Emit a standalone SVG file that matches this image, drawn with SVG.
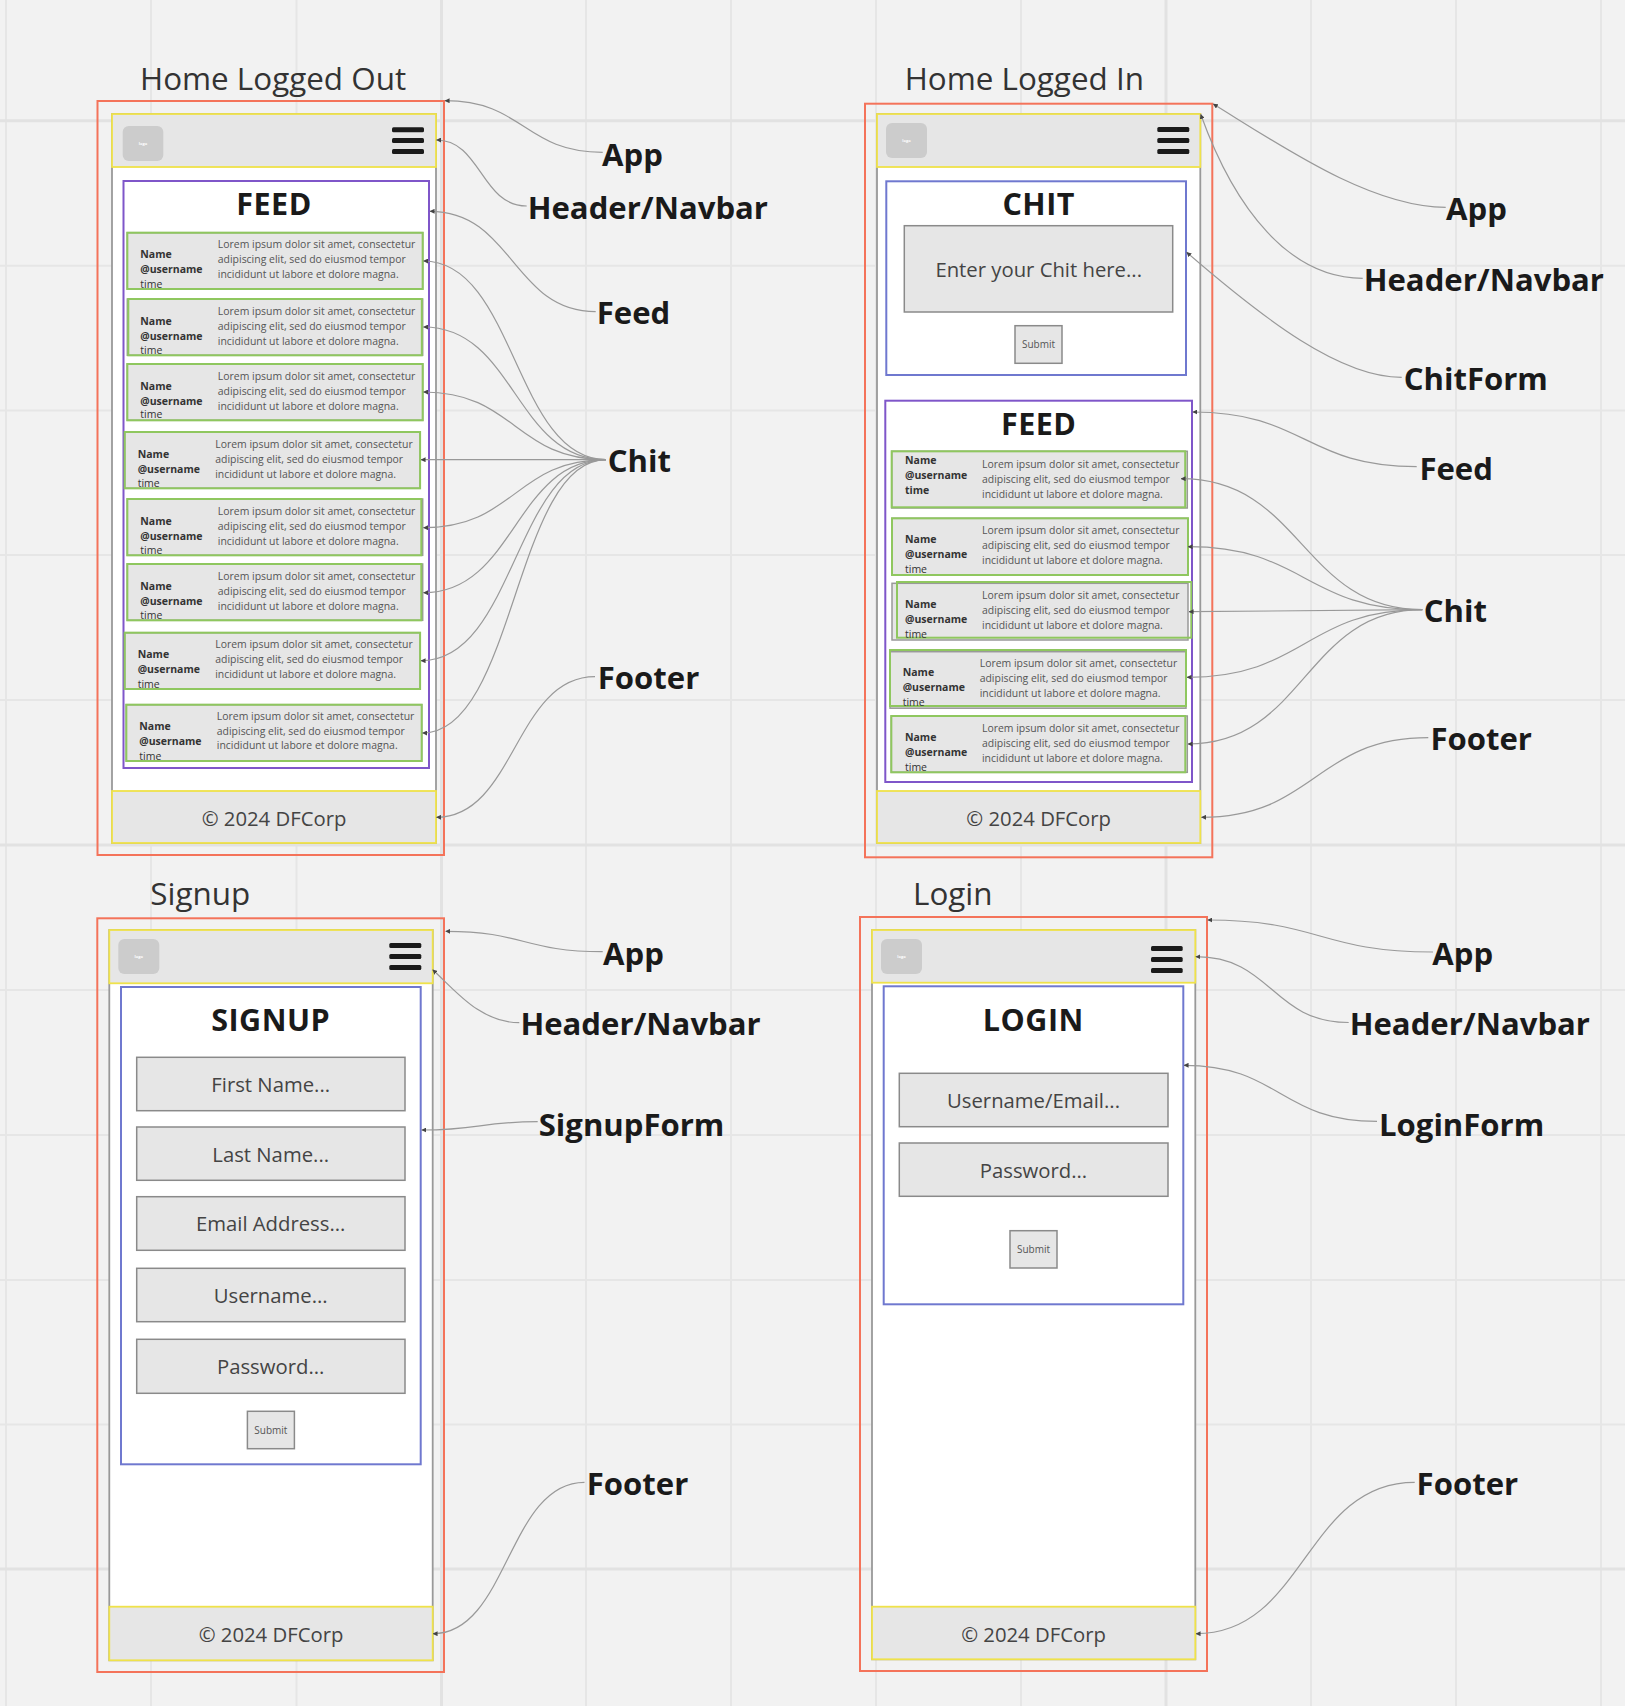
<svg xmlns="http://www.w3.org/2000/svg" width="1625" height="1706" viewBox="0 0 1625 1706">
<style>
text{font-family:"Open Sans","Noto Sans",sans-serif}
.g{stroke:#e6e6e6;stroke-width:2;fill:none}
.gs{stroke:#e2e2e2;stroke-width:3;fill:none}
.app{fill:none;stroke:#f4735a;stroke-width:2}
.frame{fill:#fff;stroke:#999;stroke-width:1.8}
.bar{fill:#e6e6e6;stroke:#efe24a;stroke-width:1.8}
.logo{fill:#ccc}
.logot{font-size:4px;fill:#fff;font-weight:700;text-anchor:middle}
.burger{fill:#1a1a1a}
.feed{fill:#fff;stroke:#7f56c9;stroke-width:2}
.form{fill:#fff;stroke:#6f78cf;stroke-width:2}
.input{fill:#e6e6e6;stroke:#8a8a8a;stroke-width:1.5}
.rowg{fill:#e6e6e6;stroke:#999;stroke-width:1.5}
.rowc{fill:none;stroke:#8fc75f;stroke-width:2}
.title{font-size:31.4px;fill:#333}
.h{font-size:30.5px;font-weight:700;fill:#1a1a1a;text-anchor:middle;letter-spacing:.5px}
.ph{font-size:20.3px;fill:#444;text-anchor:middle}
.sub{font-size:10px;fill:#555;text-anchor:middle}
.n{font-size:10.5px;font-weight:700;fill:#333}
.t{font-size:10.5px;fill:#333}
.l{font-size:10.45px;fill:#555}
.lab{font-size:31.1px;font-weight:700;fill:#1a1a1a}
.c{fill:none;stroke:#999;stroke-width:1.2;marker-end:url(#ah)}
</style>
<defs>
<marker id="ah" viewBox="0 0 6 6" refX="5.5" refY="3" markerUnits="userSpaceOnUse" markerWidth="5" markerHeight="5" orient="auto"><path d="M0 0L6 3L0 6Z" fill="#444"/></marker>
</defs>
<rect width="1625" height="1706" fill="#f2f2f2"/>
<g id="grid">
<path class="g" d="M6 0V1706M151 0V1706M296.5 0V1706M586 0V1706M731 0V1706M876 0V1706M1021 0V1706M1311 0V1706M1456 0V1706M1601 0V1706M0 265.7H1625M0 410.5H1625M0 555H1625M0 700H1625M0 990H1625M0 1135H1625M0 1280H1625M0 1424.5H1625"/>
<path class="gs" d="M441.5 0V1706M1166 0V1706M0 120.7H1625M0 845H1625M0 1569H1625"/>
</g>

<g id="home-logged-out">
<text class="title" x="140" y="90">Home Logged Out</text>
<rect class="app" x="97.5" y="101" width="346.5" height="754"/>
<rect class="frame" x="112" y="114" width="324" height="729"/>
<g id="hlo-header"><rect class="bar" x="112" y="114" width="324" height="53"/><rect class="logo" x="122.7" y="126" width="40.6" height="35" rx="6"/><text class="logot" x="143" y="145">logo</text><rect class="burger" x="392" y="127.3" width="32" height="5" rx="1.5"/><rect class="burger" x="392" y="138" width="32" height="5" rx="1.5"/><rect class="burger" x="392" y="149" width="32" height="5" rx="1.5"/></g>
<g id="hlo-feed"><rect class="feed" x="123.5" y="181" width="305.5" height="587"/><text class="h" x="274" y="214.5">FEED</text></g>
<g id="hlo-chit1" transform="translate(127.3,232.7)"><rect class="rowg" width="295.4" height="56.3"/><rect class="rowc" width="295.4" height="56.3"/><text class="n" x="13" y="25.5">Name</text><text class="n" x="13" y="40.5">@username</text><text class="t" x="13" y="55">time</text><text class="l" x="90.5" y="15.5">Lorem ipsum dolor sit amet, consectetur</text><text class="l" x="90.5" y="30.5">adipiscing elit, sed do eiusmod tempor</text><text class="l" x="90.5" y="45.5">incididunt ut labore et dolore magna.</text></g>
<g id="hlo-chit2" transform="translate(127.3,299)"><rect class="rowg" width="295.4" height="56.3"/><rect class="rowc" x="1" width="293.5" height="56.3"/><text class="n" x="13" y="25.5">Name</text><text class="n" x="13" y="40.5">@username</text><text class="t" x="13" y="55">time</text><text class="l" x="90.5" y="15.5">Lorem ipsum dolor sit amet, consectetur</text><text class="l" x="90.5" y="30.5">adipiscing elit, sed do eiusmod tempor</text><text class="l" x="90.5" y="45.5">incididunt ut labore et dolore magna.</text></g>
<g id="hlo-chit3" transform="translate(127.3,364)"><rect class="rowg" width="295.4" height="56.3"/><rect class="rowc" width="295.4" height="56.3"/><text class="n" x="13" y="25.5">Name</text><text class="n" x="13" y="40.5">@username</text><text class="t" x="13" y="54">time</text><text class="l" x="90.5" y="15.5">Lorem ipsum dolor sit amet, consectetur</text><text class="l" x="90.5" y="30.5">adipiscing elit, sed do eiusmod tempor</text><text class="l" x="90.5" y="45.5">incididunt ut labore et dolore magna.</text></g>
<g id="hlo-chit4" transform="translate(124.7,432)"><rect class="rowg" width="295.4" height="56.3"/><rect class="rowc" width="295.4" height="56.3"/><text class="n" x="13" y="25.5">Name</text><text class="n" x="13" y="40.5">@username</text><text class="t" x="13" y="55">time</text><text class="l" x="90.5" y="15.5">Lorem ipsum dolor sit amet, consectetur</text><text class="l" x="90.5" y="30.5">adipiscing elit, sed do eiusmod tempor</text><text class="l" x="90.5" y="45.5">incididunt ut labore et dolore magna.</text></g>
<g id="hlo-chit5" transform="translate(127.3,499)"><rect class="rowg" width="295.4" height="56.3"/><rect class="rowc" width="294" height="56.3"/><text class="n" x="13" y="25.5">Name</text><text class="n" x="13" y="40.5">@username</text><text class="t" x="13" y="55">time</text><text class="l" x="90.5" y="15.5">Lorem ipsum dolor sit amet, consectetur</text><text class="l" x="90.5" y="30.5">adipiscing elit, sed do eiusmod tempor</text><text class="l" x="90.5" y="45.5">incididunt ut labore et dolore magna.</text></g>
<g id="hlo-chit6" transform="translate(127.3,564)"><rect class="rowg" width="295.4" height="56.3"/><rect class="rowc" width="294" height="56.3"/><text class="n" x="13" y="25.5">Name</text><text class="n" x="13" y="40.5">@username</text><text class="t" x="13" y="55">time</text><text class="l" x="90.5" y="15.5">Lorem ipsum dolor sit amet, consectetur</text><text class="l" x="90.5" y="30.5">adipiscing elit, sed do eiusmod tempor</text><text class="l" x="90.5" y="45.5">incididunt ut labore et dolore magna.</text></g>
<g id="hlo-chit7" transform="translate(124.7,632.7)"><rect class="rowg" width="295.4" height="56.3"/><rect class="rowc" width="295.4" height="56.3"/><text class="n" x="13" y="25.5">Name</text><text class="n" x="13" y="40.5">@username</text><text class="t" x="13" y="55">time</text><text class="l" x="90.5" y="15.5">Lorem ipsum dolor sit amet, consectetur</text><text class="l" x="90.5" y="30.5">adipiscing elit, sed do eiusmod tempor</text><text class="l" x="90.5" y="45.5">incididunt ut labore et dolore magna.</text></g>
<g id="hlo-chit8" transform="translate(126.3,704.7)"><rect class="rowg" width="295.4" height="56.3"/><rect class="rowc" width="295.4" height="56.3"/><text class="n" x="13" y="25.5">Name</text><text class="n" x="13" y="40.5">@username</text><text class="t" x="13" y="55">time</text><text class="l" x="90.5" y="15.5">Lorem ipsum dolor sit amet, consectetur</text><text class="l" x="90.5" y="30">adipiscing elit, sed do eiusmod tempor</text><text class="l" x="90.5" y="44.5">incididunt ut labore et dolore magna.</text></g>
<g id="hlo-footer"><rect class="bar" x="112" y="791" width="324" height="52"/><text class="ph" x="274" y="826">© 2024 DFCorp</text></g>
</g>

<g id="home-logged-in">
<text class="title" x="904.7" y="90">Home Logged In</text>
<rect class="app" x="865" y="103.7" width="347.3" height="753.6"/>
<rect class="frame" x="877" y="114" width="323.3" height="729"/>
<g id="hli-header"><rect class="bar" x="877" y="114" width="323.3" height="53"/><rect class="logo" x="886" y="123" width="41" height="35" rx="6"/><text class="logot" x="906.5" y="142">logo</text><rect class="burger" x="1157.3" y="127" width="32" height="5" rx="1.5"/><rect class="burger" x="1157.3" y="138" width="32" height="5" rx="1.5"/><rect class="burger" x="1157.3" y="149" width="32" height="5" rx="1.5"/></g>
<g id="hli-chitform"><rect class="form" x="886.3" y="181.3" width="299.7" height="193.7"/><text class="h" x="1038.7" y="214.8">CHIT</text><rect class="input" x="904.3" y="225.7" width="268.4" height="86.3"/><text class="ph" x="1038.7" y="276.7">Enter your Chit here...</text><rect class="input" x="1015" y="325.7" width="47" height="37.6"/><text class="sub" x="1038.5" y="347.7">Submit</text></g>
<g id="hli-feed"><rect class="feed" x="885.3" y="400.7" width="306.7" height="381.3"/><text class="h" x="1038.7" y="434.8">FEED</text></g>
<g id="hli-chit1" transform="translate(891.7,451.3)"><rect class="rowg" width="295.6" height="56.7"/><rect class="rowc" width="293.5" height="56"/><text class="n" x="13.3" y="12.7">Name</text><text class="n" x="13.3" y="27.7">@username</text><text class="n" x="13.3" y="42.7">time</text><text class="l" x="90.3" y="17">Lorem ipsum dolor sit amet, consectetur</text><text class="l" x="90.3" y="32">adipiscing elit, sed do eiusmod tempor</text><text class="l" x="90.3" y="47">incididunt ut labore et dolore magna.</text></g>
<g id="hli-chit2" transform="translate(892,518.3)"><rect class="rowg" width="296" height="56.7"/><rect class="rowc" width="296" height="56.7"/><text class="n" x="13" y="25">Name</text><text class="n" x="13" y="40">@username</text><text class="t" x="13" y="55">time</text><text class="l" x="90" y="16">Lorem ipsum dolor sit amet, consectetur</text><text class="l" x="90" y="31">adipiscing elit, sed do eiusmod tempor</text><text class="l" x="90" y="46">incididunt ut labore et dolore magna.</text></g>
<g id="hli-chit3" transform="translate(892,583.3)"><rect class="rowg" width="296" height="56.7"/><rect class="rowc" x="5" y="-1.3" width="294.3" height="55.7" stroke-width="1.5"/><text class="n" x="13" y="25">Name</text><text class="n" x="13" y="40">@username</text><text class="t" x="13" y="55">time</text><text class="l" x="90" y="16">Lorem ipsum dolor sit amet, consectetur</text><text class="l" x="90" y="31">adipiscing elit, sed do eiusmod tempor</text><text class="l" x="90" y="46">incididunt ut labore et dolore magna.</text></g>
<g id="hli-chit4" transform="translate(890,651.7)"><rect class="rowg" width="296" height="56.5"/><rect class="rowc" y="-1.7" width="296" height="56"/><text class="n" x="12.7" y="24.6">Name</text><text class="n" x="12.7" y="39.6">@username</text><text class="t" x="12.7" y="54.6">time</text><text class="l" x="89.7" y="15.6">Lorem ipsum dolor sit amet, consectetur</text><text class="l" x="89.7" y="30.6">adipiscing elit, sed do eiusmod tempor</text><text class="l" x="89.7" y="45.6">incididunt ut labore et dolore magna.</text></g>
<g id="hli-chit5" transform="translate(891.3,716)"><rect class="rowg" width="296" height="56.3"/><rect class="rowc" width="294" height="56.3"/><text class="n" x="13.7" y="25.3">Name</text><text class="n" x="13.7" y="40.3">@username</text><text class="t" x="13.7" y="55">time</text><text class="l" x="90.7" y="16.3">Lorem ipsum dolor sit amet, consectetur</text><text class="l" x="90.7" y="31">adipiscing elit, sed do eiusmod tempor</text><text class="l" x="90.7" y="45.5">incididunt ut labore et dolore magna.</text></g>
<g id="hli-footer"><rect class="bar" x="877" y="791" width="323.3" height="52"/><text class="ph" x="1038.7" y="826">© 2024 DFCorp</text></g>
</g>

<g id="signup">
<text class="title" x="150.3" y="905">Signup</text>
<rect class="app" x="97.3" y="918.3" width="346.7" height="753.7"/>
<rect class="frame" x="109.3" y="930" width="323.4" height="730.3"/>
<g id="su-header"><rect class="bar" x="109.3" y="930" width="323.4" height="53.3"/><rect class="logo" x="118.3" y="939" width="41" height="35" rx="6"/><text class="logot" x="138.8" y="958">logo</text><rect class="burger" x="389.3" y="943" width="32" height="5" rx="1.5"/><rect class="burger" x="389.3" y="954" width="32" height="5" rx="1.5"/><rect class="burger" x="389.3" y="965" width="32" height="5" rx="1.5"/></g>
<g id="su-form"><rect class="form" x="121" y="987" width="299.7" height="477.3"/><text class="h" x="270.7" y="1030.7">SIGNUP</text>
<rect class="input" x="136.7" y="1057.3" width="268.3" height="53.4"/><text class="ph" x="270.7" y="1091.7">First Name...</text>
<rect class="input" x="136.7" y="1127" width="268.3" height="53.3"/><text class="ph" x="270.7" y="1161.7">Last Name...</text>
<rect class="input" x="136.7" y="1196.7" width="268.3" height="53.6"/><text class="ph" x="270.7" y="1231">Email Address...</text>
<rect class="input" x="136.7" y="1268.3" width="268.3" height="53.4"/><text class="ph" x="270.7" y="1302.7">Username...</text>
<rect class="input" x="136.7" y="1339.3" width="268.3" height="54"/><text class="ph" x="270.7" y="1374">Password...</text>
<rect class="input" x="247.4" y="1411.3" width="47" height="37.4"/><text class="sub" x="270.9" y="1434">Submit</text></g>
<g id="su-footer"><rect class="bar" x="109.3" y="1606.7" width="323.4" height="53.6"/><text class="ph" x="271" y="1641.7">© 2024 DFCorp</text></g>
</g>

<g id="login">
<text class="title" x="913" y="905">Login</text>
<rect class="app" x="860" y="917" width="347" height="754"/>
<rect class="frame" x="872" y="930" width="323.3" height="729.3"/>
<g id="li-header"><rect class="bar" x="872" y="930" width="323.3" height="52.7"/><rect class="logo" x="881" y="939" width="41" height="35" rx="6"/><text class="logot" x="901.5" y="958">logo</text><rect class="burger" x="1151" y="946" width="31.7" height="5" rx="1.5"/><rect class="burger" x="1151" y="957" width="31.7" height="5" rx="1.5"/><rect class="burger" x="1151" y="968" width="31.7" height="5" rx="1.5"/></g>
<g id="li-form"><rect class="form" x="883.7" y="986.3" width="299.6" height="318"/><text class="h" x="1033.3" y="1030.7">LOGIN</text>
<rect class="input" x="899.3" y="1073.3" width="268.7" height="53.4"/><text class="ph" x="1033.5" y="1108.3">Username/Email...</text>
<rect class="input" x="899.3" y="1143" width="268.7" height="53.3"/><text class="ph" x="1033.5" y="1178.3">Password...</text>
<rect class="input" x="1010" y="1230.7" width="47" height="37.3"/><text class="sub" x="1033.5" y="1252.7">Submit</text></g>
<g id="li-footer"><rect class="bar" x="872" y="1606.7" width="323.3" height="52.6"/><text class="ph" x="1033.5" y="1641.7">© 2024 DFCorp</text></g>
</g>

<g id="labels" transform="translate(-1.3,0.8)">
<text class="lab" x="603.3" y="165">App</text><text class="lab" x="529" y="218.3">Header/Navbar</text><text class="lab" x="598" y="323">Feed</text><text class="lab" x="609" y="471">Chit</text><text class="lab" x="599" y="688">Footer</text>
<text class="lab" x="1447.3" y="219.3">App</text><text class="lab" x="1365" y="290">Header/Navbar</text><text class="lab" x="1405" y="389">ChitForm</text><text class="lab" x="1420.7" y="479">Feed</text><text class="lab" x="1425" y="621">Chit</text><text class="lab" x="1431.7" y="749">Footer</text>
<text class="lab" x="604.3" y="964">App</text><text class="lab" x="521.7" y="1034.3">Header/Navbar</text><text class="lab" x="540" y="1135">SignupForm</text><text class="lab" x="588" y="1494.3">Footer</text>
<text class="lab" x="1433.6" y="964">App</text><text class="lab" x="1351" y="1034.3">Header/Navbar</text><text class="lab" x="1380.3" y="1135">LoginForm</text><text class="lab" x="1417.9" y="1494.3">Footer</text>
</g>

<g id="connectors">
<path class="c" d="M602.7 152.3C524 152.3 524 100.7 445 100.7"/>
<path class="c" d="M526.7 206C481 206 481 140 436.5 140"/>
<path class="c" d="M595.7 311.7C513 311.7 513 211.3 430 211.3"/>
<path class="c" d="M606 459.7C515 459.7 515 261 423.5 261"/>
<path class="c" d="M606 459.7C515 459.7 515 327 423.5 327"/>
<path class="c" d="M606 459.7C515 459.7 515 392 423.5 392"/>
<path class="c" d="M606 459.7H421"/>
<path class="c" d="M606 459.7C515 459.7 515 527.7 423.5 527.7"/>
<path class="c" d="M606 459.7C515 459.7 515 592.7 423.5 592.7"/>
<path class="c" d="M606 459.7C515 459.7 515 660.7 421 660.7"/>
<path class="c" d="M606 459.7C515 459.7 515 733 422.5 733"/>
<path class="c" d="M595 676.7C515 676.7 515 817.3 436.5 817.3"/>

<path class="c" d="M1445.7 207.3C1370 207.3 1280 145 1213.3 104"/>
<path class="c" d="M1362.7 278.3C1290 278.3 1235 210 1200.7 114.3"/>
<path class="c" d="M1401.7 377.3C1340 377.3 1265 320 1186.7 252.3"/>
<path class="c" d="M1416.7 466.7C1305 466.7 1305 412 1192.7 412"/>
<path class="c" d="M1422.3 609.7C1302 609.7 1302 478.7 1181 478.7"/>
<path class="c" d="M1422.3 609.7C1305 609.7 1305 546.7 1188 546.7"/>
<path class="c" d="M1422.3 609.7L1189 611.7"/>
<path class="c" d="M1422.3 609.7C1305 609.7 1305 677.3 1187 677.3"/>
<path class="c" d="M1422.3 609.7C1305 609.7 1305 744 1188 744"/>
<path class="c" d="M1428.3 737.7C1315 737.7 1315 817.3 1201.5 817.3"/>

<path class="c" d="M602.7 951.7C524 951.7 524 931.3 445.7 931.3"/>
<path class="c" d="M519.3 1022.7C480 1022.7 455 990 432.7 969.7"/>
<path class="c" d="M537.7 1121.7C480 1121.7 480 1130 421.7 1130"/>
<path class="c" d="M584.5 1482.3C508 1482.3 508 1633.7 433 1633.7"/>

<path class="c" d="M1433 952C1320 952 1320 920 1207.7 920"/>
<path class="c" d="M1348.7 1022.5C1272 1022.5 1272 956.7 1195.8 956.7"/>
<path class="c" d="M1377 1121.4C1280 1121.4 1280 1065.3 1184 1065.3"/>
<path class="c" d="M1414.7 1482.3C1305 1482.3 1305 1633.7 1196 1633.7"/>
</g>
</svg>
